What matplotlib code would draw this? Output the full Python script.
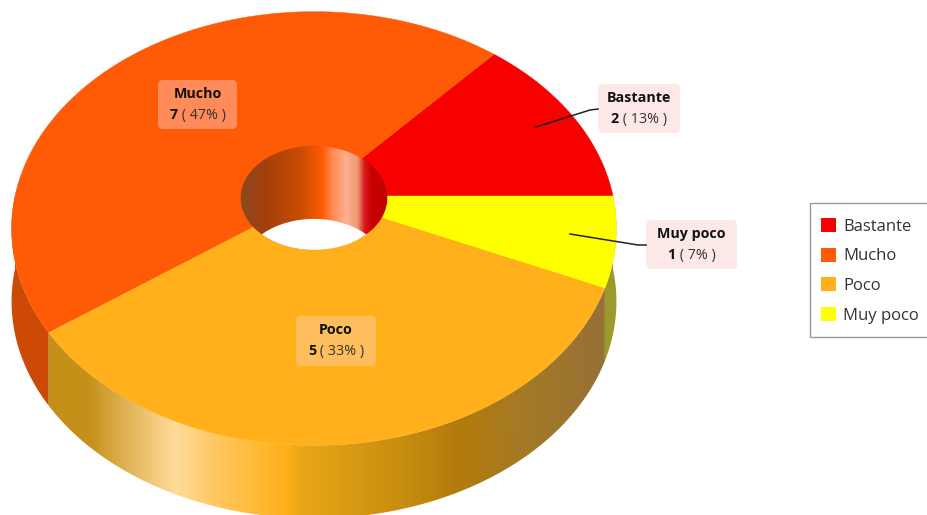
import numpy as np
import matplotlib
matplotlib.use('Agg')
import matplotlib.pyplot as plt
from matplotlib.colors import to_rgb
from matplotlib.patches import Polygon, Patch, FancyBboxPatch, Rectangle

plt.rcParams['font.family'] = ['Open Sans', 'DejaVu Sans']

# data
categories = ['Bastante', 'Mucho', 'Poco', 'Muy poco']
values = [2, 7, 5, 1]

# style and layout
colors = ['#f70000', '#ff5a05', '#ffb01a', '#ffff00']
label_boxes = [(598, 84, 82, 49), (158, 80, 79, 49), (296, 316, 80, 50), (646, 220, 91, 49)]
box_colors = ['#fde8e8', '#ff8a5a', '#ffbe5e', '#fde8e8']
leaders = [[(536, 127), (590, 110), (598, 109)], None, None, [(570, 234), (638, 245), (646, 245)]]

# pie geometry, in pixels of the picture
cx, cy = 314, 196
rx, ry = 299, 212
persp = 0.15
hole = 0.245
depth = 73


def project(t, r=1.0, drop=0):
    u = r * np.cos(t)
    v = r * np.sin(t)
    w = 1 + persp * v
    return np.column_stack([cx + rx * u / w, cy - ry * v / w + drop])


def hex_stops(stops, x):
    xs = [s[0] for s in stops]
    rgb = np.array([to_rgb(s[1]) for s in stops])
    return np.column_stack([np.interp(x, xs, rgb[:, i]) for i in range(3)])


def gradient(ax, stops, clip):
    # horizontal colour ramp, clipped to a polygon
    x = np.arange(0, 928)
    img = hex_stops(stops, x)[np.newaxis, :, :]
    im = ax.imshow(img, extent=(0, 928, 515, 0), aspect='auto', zorder=clip.get_zorder(), interpolation='bilinear')
    ax.add_patch(clip)
    clip.set_facecolor('none')
    clip.set_edgecolor('none')
    im.set_clip_path(clip)


fig = plt.figure(figsize=(9.28, 5.15), dpi=100)
ax = fig.add_axes([0, 0, 1, 1])

# angles come from the values, first slice starts at 3 o'clock going up
total = sum(values)
edges = np.concatenate([[0], np.cumsum(values)]) / total * 2 * np.pi

# outer wall
wall_stops = {
    1: [(12, '#cc4a05'), (50, '#cc4a05')],
    2: [(50, '#c49018'), (88, '#c49018'), (120, '#dcae4c'), (175, '#fedb9a'), (215, '#ffc860'),
        (285, '#ffb01a'), (300, '#eaa818'), (330, '#e0a016'), (400, '#c88e10'), (460, '#b27a0c'),
        (520, '#a47a24'), (607, '#967038')],
    3: [(600, '#9c9a2c'), (620, '#9c9a2c')],
}
for i, stops in wall_stops.items():
    a0 = max(edges[i], np.pi)
    t = np.linspace(a0, edges[i + 1], 200)
    top = project(t)
    bottom = project(t[::-1], drop=depth)
    gradient(ax, stops, Polygon(np.vstack([top, bottom]), closed=True, zorder=1))

# top face
for i, c in enumerate(colors):
    t = np.linspace(edges[i], edges[i + 1], 200)
    pts = np.vstack([[[cx, cy]], project(t)])
    ax.add_patch(Polygon(pts, closed=True, facecolor=c, edgecolor=c, linewidth=0.3, zorder=2))

# hole with its inner wall
ring = np.linspace(0, 2 * np.pi, 200)
hole_stops = [(241, '#8a4a20'), (265, '#a53f0c'), (300, '#c84c02'), (322, '#ff5a05'), (332, '#ff8a50'),
              (346, '#ffb090'), (357, '#ee9a70'), (364, '#d81c20'), (371, '#c80000'), (390, '#c00000')]
gradient(ax, hole_stops, Polygon(project(ring, hole), closed=True, zorder=3))
clip = Polygon(project(ring, hole), closed=True, facecolor='none', edgecolor='none', zorder=4)
ax.add_patch(clip)
white = Polygon(project(ring, hole, drop=depth), closed=True, facecolor='white', edgecolor='none', zorder=4)
ax.add_patch(white)
white.set_clip_path(clip)

ax.set_xlim(0, 928)
ax.set_ylim(515, 0)
ax.axis('off')

# labels
renderer = fig.canvas.get_renderer()
fs = 10.3
for name, val, box, bc, lead in zip(categories, values, label_boxes, box_colors, leaders):
    x, y, w, h = box
    ax.add_patch(FancyBboxPatch((x + 4, y + 4), w - 8, h - 8, boxstyle='round,pad=4,rounding_size=5',
                                facecolor=bc, edgecolor='none', zorder=5))
    if lead is not None:
        ax.plot([p[0] for p in lead], [p[1] for p in lead], color='#222222', lw=1.1, zorder=6)
    xc = x + w / 2
    ax.text(xc, y + 14, name, ha='center', va='center', fontsize=fs, fontweight='bold', color='#111111', zorder=7)
    pct = round(100 * val / total)
    a = ax.text(0, y + 35, str(val), ha='left', va='center', fontsize=fs, fontweight='bold', color='#111111', zorder=7)
    b = ax.text(0, y + 35, f' ( {pct}% )', ha='left', va='center', fontsize=fs, color='#333333', zorder=7)
    wa = a.get_window_extent(renderer).width
    wb = b.get_window_extent(renderer).width
    a.set_x(xc - (wa + wb) / 2)
    b.set_x(xc - (wa + wb) / 2 + wa)

# legend: frame runs off the right edge of the picture
ax.add_patch(Rectangle((810.5, 202.5), 130, 134, facecolor='white', edgecolor='#999999', linewidth=1, zorder=8))
handles = [Patch(facecolor=c, edgecolor='none') for c in colors]
leg = ax.legend(handles, categories, loc='upper left', bbox_to_anchor=(821 / 928, 1 - 218 / 515),
                fontsize=12, frameon=False, handlelength=0.9, handleheight=0.9, handletextpad=0.42,
                labelspacing=0.78, borderpad=0, borderaxespad=0, labelcolor='#333333')
leg.set_zorder(9)

fig.savefig('out.png', dpi=100)
